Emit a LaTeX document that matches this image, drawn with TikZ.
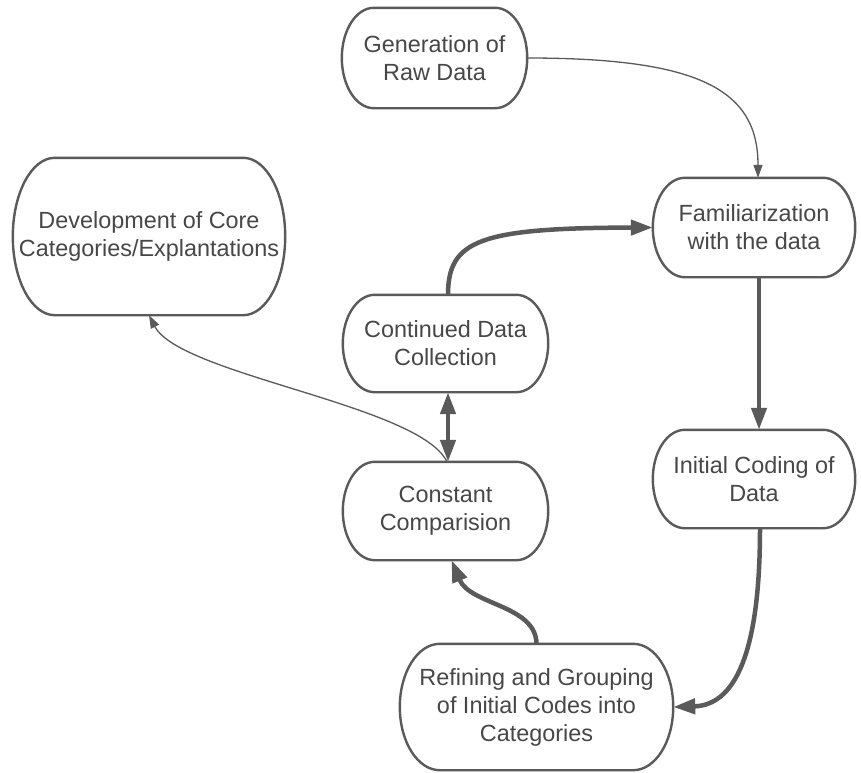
\documentclass[tikz,border=0pt]{standalone}
\usepackage{fontspec}
\setmainfont{Liberation Sans}
\usetikzlibrary{arrows.meta,calc}
\definecolor{linegray}{HTML}{5A5A5A}
\definecolor{textgray}{HTML}{474747}
\tikzset{
  boxnode/.style={inner sep=0pt, align=center, text=textgray,
    font=\fontsize{23.4}{28}\selectfont},
  boxline/.style={draw=linegray, line width=2.4pt},
  thickarrow/.style={draw=linegray, line width=4.5pt,
    -{Triangle[length=22pt,width=15pt]}},
  thickboth/.style={draw=linegray, line width=4.5pt,
    {Triangle[length=22pt,width=15pt]}-{Triangle[length=22pt,width=15pt]}},
  thinarrow/.style={draw=linegray, line width=1.3pt,
    -{Triangle[length=13pt,width=9pt]}},
}
\newcommand\pilloutline[2]{%
  \draw[boxline] let \p1=(#1.north), \p2=(#1.south), \n1={(\y1-\y2)/2} in
    ([xshift=#2]#1.north west) -- ([xshift=-#2]#1.north east)
    arc[start angle=90, end angle=-90, x radius=#2, y radius=\n1]
    -- ([xshift=#2]#1.south west)
    arc[start angle=270, end angle=90, x radius=#2, y radius=\n1] -- cycle;
}
\begin{document}
\begin{tikzpicture}[x=1pt, y=-1pt]
\useasboundingbox (0,0) rectangle (861,772);
\fill[white] (0,0) rectangle (861,772);

\node[boxnode, minimum width=185pt, minimum height=100pt] (gen) at (434.5,58) {Generation of\\Raw Data};
\node[boxnode, minimum width=202pt, minimum height=99pt] (fam) at (754,227.5) {Familiarization\\with the data};
\node[boxnode, minimum width=272pt, minimum height=157pt] (dev) at (149,236.5) {Development of Core\\Categories/Explantations};
\node[boxnode, minimum width=205pt, minimum height=97pt] (cont) at (445.5,343.5) {Continued Data\\Collection};
\node[boxnode, minimum width=205pt, minimum height=98pt] (const) at (445.5,511) {Constant\\Comparision};
\node[boxnode, minimum width=202pt, minimum height=98pt] (init) at (754,479) {Initial Coding of\\Data};
\node[boxnode, minimum width=273pt, minimum height=126pt] (ref) at (536.5,707) {Refining and Grouping\\of Initial Codes into\\Categories};

\pilloutline{gen}{32pt}
\pilloutline{fam}{32pt}
\pilloutline{dev}{42pt}
\pilloutline{cont}{32pt}
\pilloutline{const}{32pt}
\pilloutline{init}{32pt}
\pilloutline{ref}{40pt}

\draw[thinarrow] (gen.east) .. controls (700,58) and (758,90) .. ([xshift=4pt]fam.north);
\draw[thickarrow] ([xshift=2.5pt]cont.north) .. controls (448,240) and (480,228) .. (fam.west);
\draw[thickarrow] ([xshift=5pt]fam.south) -- ([xshift=5pt]init.north);
\draw[thickarrow] ([xshift=6pt]init.south) .. controls (760,640) and (740,705) .. (ref.east);
\draw[thickarrow] (ref.north) .. controls (536,605) and (470,605) .. ([xshift=6pt]const.south);
\draw[thickboth] ([xshift=2.5pt]cont.south) -- ([xshift=2.5pt]const.north);
\draw[thinarrow] ([xshift=1.5pt]const.north) .. controls (420,405) and (180,375) .. (dev.south);
\end{tikzpicture}
\end{document}
